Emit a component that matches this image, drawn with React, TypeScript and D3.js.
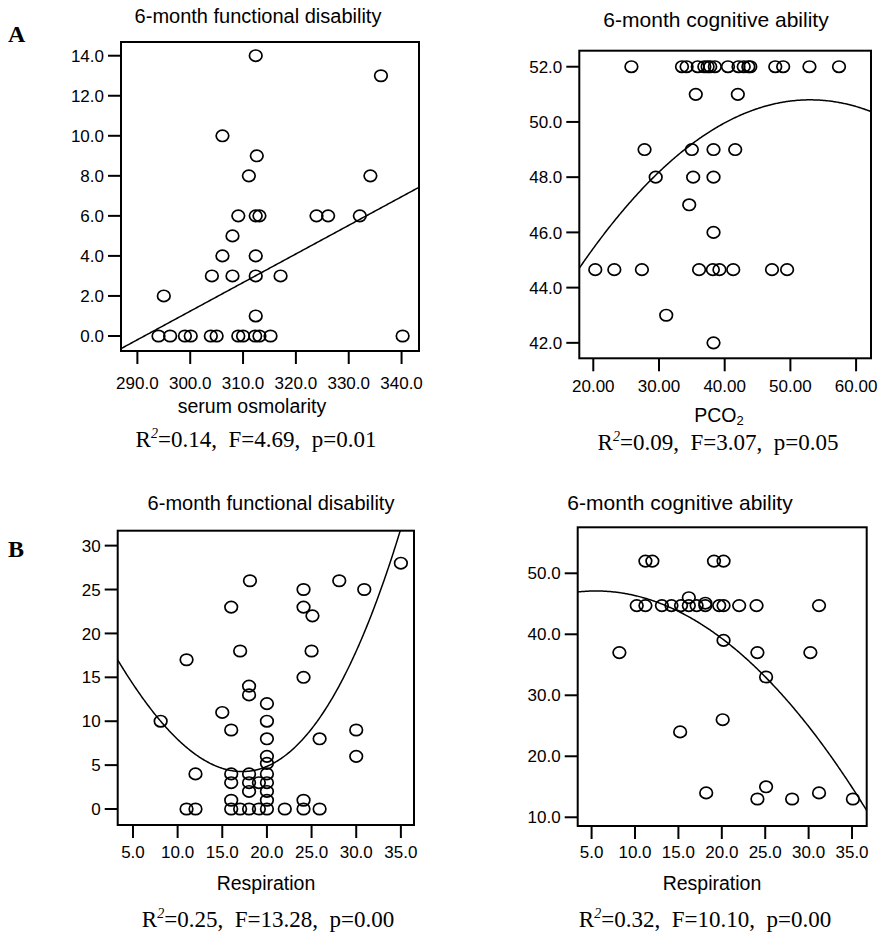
import React from "react";
import * as d3 from "d3";

type Pt = [number, number];

// A left: serum osmolarity vs 6-month functional disability
const osmolarityPoints: Pt[] = [
  [312.4, 14], [336.1, 13], [306.1, 10], [312.6, 9], [311.1, 8], [334.1, 8],
  [309.1, 6], [312.4, 6], [313.1, 6], [323.9, 6], [326.1, 6], [332.1, 6],
  [308.0, 5], [306.1, 4], [312.4, 4], [304.1, 3], [308.0, 3], [312.4, 3],
  [317.1, 3], [295.0, 2], [312.4, 1],
  [294.0, 0], [296.2, 0], [299.0, 0], [300.1, 0], [303.9, 0], [305.0, 0],
  [309.1, 0], [310.0, 0], [312.3, 0], [313.1, 0], [315.2, 0], [340.2, 0],
];
const osmolarityTicks = [290, 300, 310, 320, 330, 340];
const disabilityTicksA = [0, 2, 4, 6, 8, 10, 12, 14];
const osmolarityFit = [-41.63, 0.1429]; // linear

// A right: PCO2 vs 6-month cognitive ability
const pco2Points: Pt[] = [
  [25.8, 52], [33.5, 52], [34.2, 52], [35.9, 52], [36.9, 52], [37.4, 52],
  [37.8, 52], [38.5, 52], [40.5, 52], [42.1, 52], [42.9, 52], [43.6, 52],
  [43.9, 52], [47.7, 52], [48.9, 52], [52.9, 52], [57.4, 52],
  [35.6, 51], [42.0, 51],
  [27.8, 49], [35.0, 49], [38.3, 49], [41.6, 49],
  [29.5, 48], [35.2, 48], [38.3, 48],
  [34.6, 47], [38.3, 46],
  [20.3, 44.65], [23.2, 44.65], [27.4, 44.65], [36.1, 44.65], [38.2, 44.65],
  [39.2, 44.65], [41.3, 44.65], [47.2, 44.65], [49.5, 44.65],
  [31.1, 43], [38.3, 42],
];
const pco2Ticks = [20, 30, 40, 50, 60];
const cognitiveTicksA = [42, 44, 46, 48, 50, 52];
const pco2Fit = [36.924, 0.52364, -0.00494]; // quadratic

// B left: respiration vs 6-month functional disability
const respDisabilityPoints: Pt[] = [
  [35, 28], [18.1, 26], [24.1, 25], [28.1, 26], [30.9, 25], [16, 23], [24.1, 23],
  [25.1, 22], [17, 18], [25, 18], [11, 17], [24.1, 15], [18, 14], [18, 13],
  [20, 12], [15, 11], [8.1, 10], [20, 10], [16, 9], [30, 9], [20, 8], [25.9, 8],
  [20, 6], [30, 6], [20, 5.2], [20, 4], [20, 3], [20, 2], [20, 1], [20, 0],
  [12, 4], [16, 4], [16, 3], [16, 1], [16, 0], [18, 4], [18, 3], [18, 2],
  [18, 0], [19.1, 3], [19.1, 0], [11, 0], [12, 0], [17, 0], [22, 0],
  [24.1, 0], [25.9, 0], [24.1, 1],
];
const respirationTicks = [5, 10, 15, 20, 25, 30, 35];
const disabilityTicksB = [0, 5, 10, 15, 20, 25, 30];
const respDisabilityFit = [4.27, -0.0346, 0.0747, 0.0007003]; // cubic around 17
const respDisabilityCenter = 17;

// B right: respiration vs 6-month cognitive ability
const respCognitivePoints: Pt[] = [
  [11.2, 52], [12, 52], [19.1, 52], [20.2, 52], [16.2, 46],
  [10.2, 44.7], [11.2, 44.7], [13.1, 44.7], [14.2, 44.7], [15.3, 44.7],
  [16.2, 44.7], [17.1, 44.7], [18.1, 44.7], [18.1, 45.1], [19.7, 44.7],
  [20.2, 44.7], [22, 44.7], [24, 44.7], [31.2, 44.7],
  [20.2, 39], [8.2, 37], [24.1, 37], [30.2, 37], [25.1, 33], [20.1, 26],
  [15.2, 24], [18.2, 14], [31.2, 14], [25.1, 15], [24.1, 13], [28.1, 13],
  [35.1, 13],
];
const cognitiveTicksB = [10, 20, 30, 40, 50];
const respCognitiveFit = [45.98, 0.407, -0.037]; // quadratic

const SANS = "'Liberation Sans', Arial, sans-serif";
const SERIF = "'Liberation Serif', 'Times New Roman', serif";

const poly = (coefs: number[], center = 0) => (x: number) =>
  coefs.reduce((s, c, i) => s + c * Math.pow(x - center, i), 0);

interface PanelProps {
  id: string;
  box: { x0: number; x1: number; y0: number; y1: number };
  xDomain: [number, number];
  yDomain: [number, number];
  xTicks: number[];
  yTicks: number[];
  xFmt: (v: number) => string;
  yFmt: (v: number) => string;
  points: Pt[];
  fit: (x: number) => number;
  title: string;
  titlePos: [number, number, number];
  xLabel: React.ReactNode;
  xLabelPos: [number, number];
  xTickLabelY: number;
  stats: [string, string, string];
  statsPos: [number, number];
}

const Panel = (p: PanelProps) => {
  const { box } = p;
  const x = d3.scaleLinear().domain(p.xDomain).range([box.x0, box.x1]);
  const y = d3.scaleLinear().domain(p.yDomain).range([box.y0, box.y1]);
  const samples = d3.range(0, 301).map((i) => p.xDomain[0] + ((p.xDomain[1] - p.xDomain[0]) * i) / 300);
  const line = d3
    .line<number>()
    .x((d) => x(d))
    .y((d) => y(p.fit(d)));

  return (
    <g>
      <defs>
        <clipPath id={`clip-${p.id}`}>
          <rect x={box.x0} y={box.y0} width={box.x1 - box.x0} height={box.y1 - box.y0} />
        </clipPath>
      </defs>
      <text x={p.titlePos[0]} y={p.titlePos[1]} textAnchor="middle" fontFamily={SANS} fontSize={p.titlePos[2]}>
        {p.title}
      </text>

      {/* points + fitted curve */}
      <g clipPath={`url(#clip-${p.id})`}>
        {p.points.map((d, i) => (
          <ellipse key={i} cx={x(d[0])} cy={y(d[1])} rx={6.3} ry={5.7} fill="none" stroke="#000" strokeWidth={1.7} />
        ))}
        <path d={line(samples) || ""} fill="none" stroke="#000" strokeWidth={1.5} />
      </g>

      <rect x={box.x0} y={box.y0} width={box.x1 - box.x0} height={box.y1 - box.y0} fill="none" stroke="#000" strokeWidth={2} />

      {/* y axis */}
      {p.yTicks.map((t) => (
        <g key={`y${t}`}>
          <line x1={box.x0 - 13} x2={box.x0} y1={y(t)} y2={y(t)} stroke="#000" strokeWidth={2} />
          <text x={box.x0 - 17} y={y(t)} dy="0.36em" textAnchor="end" fontFamily={SANS} fontSize={17}>
            {p.yFmt(t)}
          </text>
        </g>
      ))}

      {/* x axis */}
      {p.xTicks.map((t) => (
        <g key={`x${t}`}>
          <line x1={x(t)} x2={x(t)} y1={box.y1} y2={box.y1 + 13} stroke="#000" strokeWidth={2} />
          <text x={x(t)} y={p.xTickLabelY} textAnchor="middle" fontFamily={SANS} fontSize={17}>
            {p.xFmt(t)}
          </text>
        </g>
      ))}

      <text x={p.xLabelPos[0]} y={p.xLabelPos[1]} textAnchor="middle" fontFamily={SANS} fontSize={19.5}>
        {p.xLabel}
      </text>

      <text x={p.statsPos[0]} y={p.statsPos[1]} textAnchor="middle" fontFamily={SERIF} fontSize={23} style={{ whiteSpace: "pre" }}>
        R<tspan fontSize={14} fontStyle="italic" dy={-9}>2</tspan>
        <tspan dy={9}>{`=${p.stats[0]},  F=${p.stats[1]},  p=${p.stats[2]}`}</tspan>
      </text>
    </g>
  );
};

const f1 = d3.format(".1f");
const f2 = d3.format(".2f");
const f0 = d3.format("d");

export default function App() {
  return (
    <svg width={880} height={941} style={{ position: "absolute", left: 0, top: 0, background: "#fff" }}>
      <rect width={880} height={941} fill="#fff" />
      <text x={8} y={42} fontFamily={SERIF} fontWeight="bold" fontSize={24}>A</text>
      <text x={8} y={557} fontFamily={SERIF} fontWeight="bold" fontSize={24}>B</text>

      <Panel
        id="al"
        box={{ x0: 121, x1: 419, y0: 42, y1: 351 }}
        xDomain={[286.9, 343.3]}
        yDomain={[14.685, -0.75]}
        xTicks={osmolarityTicks}
        yTicks={disabilityTicksA}
        xFmt={f1}
        yFmt={f1}
        points={osmolarityPoints}
        fit={poly(osmolarityFit)}
        title="6-month functional disability"
        titlePos={[258, 23, 20]}
        xLabel="serum osmolarity"
        xLabelPos={[252, 413]}
        xTickLabelY={389}
        stats={["0.14", "4.69", "0.01"]}
        statsPos={[256, 447]}
      />
      <Panel
        id="ar"
        box={{ x0: 579.3, x1: 871, y0: 50.7, y1: 358.3 }}
        xDomain={[17.87, 62.27]}
        yDomain={[52.58, 41.44]}
        xTicks={pco2Ticks}
        yTicks={cognitiveTicksA}
        xFmt={f2}
        yFmt={f1}
        points={pco2Points}
        fit={poly(pco2Fit)}
        title="6-month cognitive ability"
        titlePos={[716, 27, 21]}
        xLabel={
          <>
            PCO<tspan fontSize={13} dy={3}>2</tspan>
          </>
        }
        xLabelPos={[719, 422]}
        xTickLabelY={392}
        stats={["0.09", "3.07", "0.05"]}
        statsPos={[718, 450]}
      />
      <Panel
        id="bl"
        box={{ x0: 117.7, x1: 414, y0: 530.7, y1: 825 }}
        xDomain={[3.29, 36.47]}
        yDomain={[31.7, -1.82]}
        xTicks={respirationTicks}
        yTicks={disabilityTicksB}
        xFmt={f1}
        yFmt={f0}
        points={respDisabilityPoints}
        fit={poly(respDisabilityFit, respDisabilityCenter)}
        title="6-month functional disability"
        titlePos={[271, 510, 20]}
        xLabel="Respiration"
        xLabelPos={[266, 890]}
        xTickLabelY={858}
        stats={["0.25", "13.28", "0.00"]}
        statsPos={[268, 927]}
      />
      <Panel
        id="br"
        box={{ x0: 577.7, x1: 866.7, y0: 527.3, y1: 826 }}
        xDomain={[3.4, 36.69]}
        yDomain={[57.54, 8.57]}
        xTicks={respirationTicks}
        yTicks={cognitiveTicksB}
        xFmt={f1}
        yFmt={f1}
        points={respCognitivePoints}
        fit={poly(respCognitiveFit)}
        title="6-month cognitive ability"
        titlePos={[680, 510, 21]}
        xLabel="Respiration"
        xLabelPos={[712, 890]}
        xTickLabelY={858}
        stats={["0.32", "10.10", "0.00"]}
        statsPos={[705, 927]}
      />
    </svg>
  );
}
